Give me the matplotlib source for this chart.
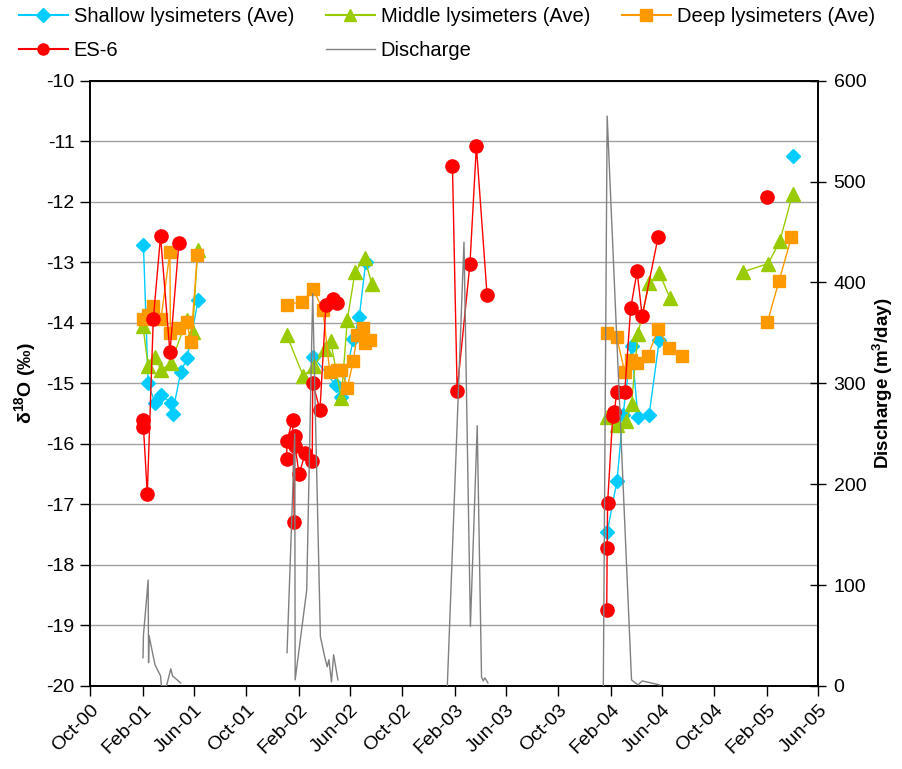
import numpy as np
import pandas as pd
import matplotlib
matplotlib.use("Agg")
import matplotlib.pyplot as plt
import matplotlib.dates as mdates
from matplotlib.lines import Line2D

plt.rcParams['font.family'] = ['Liberation Sans', 'DejaVu Sans']
plt.rcParams['mathtext.fontset'] = 'custom'
plt.rcParams['mathtext.rm'] = 'Liberation Sans'
plt.rcParams['mathtext.bf'] = 'Liberation Sans:bold'
plt.rcParams['mathtext.it'] = 'Liberation Sans:italic'
plt.rcParams['axes.unicode_minus'] = False

nan = np.nan

shallow_dates = ["2001-02-03", "2001-02-14", "2001-03-02", "2001-03-16", "2001-04-08", "2001-04-12",
                 "2001-05-01", "2001-05-16", "2001-06-11", "2001-10-01",
                 "2002-03-07", "2002-04-29", "2002-05-12", "2002-06-09", "2002-06-23", "2002-07-08", "2003-01-01",
                 "2004-01-24", "2004-02-16", "2004-03-01", "2004-03-21", "2004-04-05", "2004-05-01", "2004-05-25",
                 "2004-10-01", "2005-04-02"]
shallow_vals = [-12.71, -15.00, -15.32, -15.19, -15.32, -15.50, -14.82, -14.58, -13.63, nan,
                -14.56, -15.03, -15.22, -14.27, -13.90, -13.00, nan,
                -17.46, -16.61, -15.53, -14.39, -15.55, -15.53, -14.28, nan,
                -11.24]

middle_dates = ["2001-02-02", "2001-02-14", "2001-03-02", "2001-03-16", "2001-04-08", "2001-05-15",
                "2001-05-29", "2001-06-10", "2001-10-01",
                "2002-01-04", "2002-02-12", "2002-03-09", "2002-04-03", "2002-04-17", "2002-05-12",
                "2002-05-26", "2002-06-13", "2002-07-06", "2002-07-22", "2003-01-01",
                "2004-01-23", "2004-02-15", "2004-03-08", "2004-03-21", "2004-04-05", "2004-05-01",
                "2004-05-25", "2004-06-19", "2004-10-01",
                "2004-12-06", "2005-02-04", "2005-03-03", "2005-04-02"]
middle_vals = [-14.06, -14.72, -14.56, -14.78, -14.67, -13.95, -14.15, -12.80, nan,
               -14.20, -14.88, -14.72, -14.44, -14.30, -15.25, -13.95, -13.16, -12.93, -13.36, nan,
               -15.55, -15.69, -15.63, -15.34, -14.19, -13.35, -13.18, -13.59, nan,
               -13.16, -13.02, -12.65, -11.87]

deep_dates = ["2001-02-02", "2001-02-13", "2001-02-26", "2001-03-16", "2001-04-06", "2001-04-07",
              "2001-04-27", "2001-05-15", "2001-05-25", "2001-06-09", "2001-10-01",
              "2002-01-04", "2002-02-10", "2002-03-07", "2002-03-30", "2002-04-15", "2002-05-01",
              "2002-05-12", "2002-05-26", "2002-06-09", "2002-06-18", "2002-07-02", "2002-07-06",
              "2002-07-18", "2003-01-01",
              "2004-01-23", "2004-02-15", "2004-03-05", "2004-03-19", "2004-04-03", "2004-04-29",
              "2004-05-22", "2004-06-17", "2004-07-16", "2004-10-01",
              "2005-02-02", "2005-03-01", "2005-03-30"]
deep_vals = [-13.94, -13.87, -13.72, -13.93, -12.83, -14.17, -14.09, -13.98, -14.31, -12.88, nan,
             -13.70, -13.65, -13.44, -13.79, -14.81, -14.78, -14.78, -15.07, -14.63, -14.20, -14.09,
             -14.33, -14.28, nan,
             -14.16, -14.23, -14.81, -14.61, -14.67, -14.54, -14.10, -14.41, -14.54, nan,
             -13.99, -13.31, -12.59]

es6_dates = ["2001-02-02", "2001-02-03", "2001-02-12", "2001-02-26", "2001-03-15", "2001-04-06",
             "2001-04-27", "2001-10-01",
             "2002-01-04", "2002-01-05", "2002-01-18", "2002-01-22", "2002-01-23", "2002-01-24",
             "2002-02-02", "2002-02-17", "2002-03-05", "2002-03-06", "2002-03-23", "2002-04-06",
             "2002-04-23", "2002-05-03", "2002-10-01",
             "2003-01-27", "2003-02-07", "2003-03-09", "2003-03-24", "2003-04-18", "2003-10-01",
             "2004-01-23", "2004-01-24", "2004-01-25", "2004-02-06", "2004-02-10", "2004-02-15",
             "2004-03-05", "2004-03-19", "2004-04-03", "2004-04-15", "2004-05-22", "2004-10-01",
             "2005-02-02"]
es6_vals = [-15.60, -15.72, -16.83, -13.94, -12.57, -14.49, -12.68, nan,
            -16.25, -15.95, -15.60, -17.29, -15.87, -16.03, -16.50, -16.15, -16.28, -14.99, -15.44,
            -13.70, -13.61, -13.68, nan,
            -11.41, -15.12, -13.02, -11.08, -13.54, nan,
            -18.75, -17.72, -16.98, -15.54, -15.48, -15.15, -15.15, -13.76, -13.15, -13.89, -12.59, nan,
            -11.92]

discharge_dates = ["2001-02-02", "2001-02-03", "2001-02-14", "2001-02-15", "2001-02-16", "2001-03-02",
                   "2001-03-15", "2001-03-17", "2001-03-29", "2001-04-08", "2001-04-12", "2001-05-01",
                   "2001-10-01",
                   "2002-01-05", "2002-01-23", "2002-01-24", "2002-02-20", "2002-03-06", "2002-03-24",
                   "2002-04-03", "2002-04-09", "2002-04-13", "2002-04-19", "2002-04-24", "2002-05-04",
                   "2002-10-01",
                   "2003-01-15", "2003-02-23", "2003-03-10", "2003-03-26", "2003-04-05", "2003-04-09",
                   "2003-04-13", "2003-04-20", "2003-10-01",
                   "2004-01-15", "2004-01-24", "2004-03-21", "2004-04-05", "2004-04-15", "2004-05-26"]
discharge_vals = [28, 50, 105, 23, 50, 21, 10, 0, 0, 17, 10, 3, nan,
                  33, 250, 6, 95, 389, 49, 29, 19, 26, 4, 31, 6, nan,
                  0, 440, 59, 258, 9, 5, 8, 3, nan,
                  0, 565, 6, 1, 5, 1]

xtick_start, xtick_end = "2000-10-01", "2005-06-01"

fig = plt.figure(figsize=(9.02, 7.69), dpi=100)
ax = fig.add_axes([0.0998, 0.108, 0.8074, 0.787])
ax2 = ax.twinx()

c_sh, c_mid, c_deep, c_es, c_dis = "#00CCFF", "#99CC00", "#FF9900", "#FF0000", "#808080"

def d(lst):
    return pd.to_datetime(lst)

ax.plot(d(shallow_dates), shallow_vals, color=c_sh, lw=1.0, marker='D', ms=7,
        mec=c_sh, mfc=c_sh, zorder=3)
ax.plot(d(middle_dates), middle_vals, color=c_mid, lw=1.0, marker='^', ms=10,
        mec=c_mid, mfc=c_mid, zorder=4)
ax.plot(d(deep_dates), deep_vals, color=c_deep, lw=1.0, marker='s', ms=8.5,
        mec=c_deep, mfc=c_deep, zorder=5)
ax.plot(d(es6_dates), es6_vals, color=c_es, lw=1.0, marker='o', ms=9.5,
        mec=c_es, mfc=c_es, zorder=6)
ax2.plot(d(discharge_dates), discharge_vals, color=c_dis, lw=1.0, zorder=3)

ax.set_xlim(pd.Timestamp(xtick_start), pd.Timestamp(xtick_end))
ax.set_ylim(-20, -10)
ax.set_yticks(np.arange(-20, -9, 1))
ax2.set_ylim(0, 600)
ax2.set_yticks(np.arange(0, 601, 100))

ax.xaxis.set_major_locator(mdates.MonthLocator(bymonth=(2, 6, 10)))
ax.xaxis.set_major_formatter(mdates.DateFormatter('%b-%y'))
for lab in ax.get_xticklabels():
    lab.set_rotation(45)
    lab.set_ha('right')
    lab.set_va('top')
    lab.set_rotation_mode('anchor')

ax.grid(axis='y', color='#A0A0A0', lw=1.0)
ax.set_axisbelow(True)

for a in (ax, ax2):
    for s in a.spines.values():
        s.set_color('black')
        s.set_linewidth(1.2)

ax.tick_params(axis='y', direction='out', length=7, width=1, labelsize=14, pad=4)
ax.tick_params(axis='x', direction='out', length=7, width=1, labelsize=14, pad=4)
ax2.tick_params(axis='y', direction='inout', length=12, width=1, labelsize=14, pad=5)

ax.set_ylabel(r"δ$^{\mathbf{18}}$O (‰)", fontsize=14, fontweight='bold', labelpad=6)
ax2.set_ylabel(r"Discharge (m$^{\mathbf{3}}$/day)", fontsize=13.5, fontweight='bold', labelpad=3)

handles = [
    Line2D([], [], color=c_sh, lw=1.5, marker='D', ms=7, mfc=c_sh, mec=c_sh),
    Line2D([], [], color=c_es, lw=1.5, marker='o', ms=8, mfc=c_es, mec=c_es),
    Line2D([], [], color=c_mid, lw=1.5, marker='^', ms=9, mfc=c_mid, mec=c_mid),
    Line2D([], [], color=c_dis, lw=1.0),
    Line2D([], [], color=c_deep, lw=1.5, marker='s', ms=8, mfc=c_deep, mec=c_deep),
]
labels = ["Shallow lysimeters (Ave)", "ES-6", "Middle lysimeters (Ave)", "Discharge",
          "Deep lysimeters (Ave)"]
fig.legend(handles, labels, ncol=3, loc='upper left', bbox_to_anchor=(0.008, 1.006),
           frameon=False, fontsize=14.5, handlelength=2.4, columnspacing=1.6,
           handletextpad=0.3, labelspacing=0.7, borderaxespad=0.2)

fig.savefig("out.png", dpi=100)
